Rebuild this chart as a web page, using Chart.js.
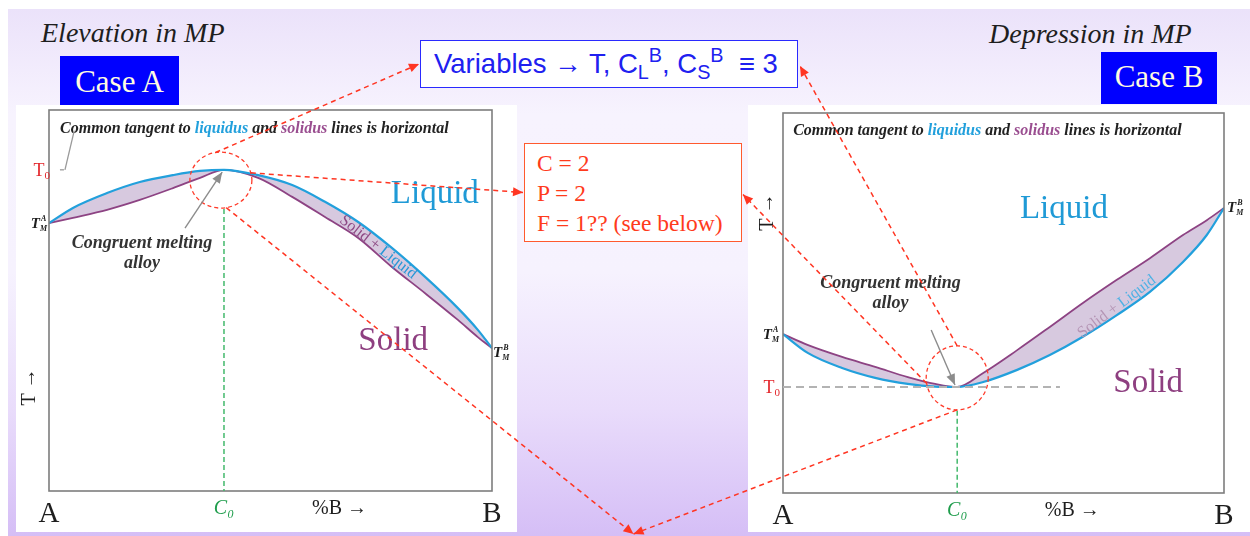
<!DOCTYPE html>
<html>
<head>
<meta charset="utf-8">
<script src="https://cdn.jsdelivr.net/npm/chart.js@4.4.1/dist/chart.umd.min.js"></script>
<style>
html,body{margin:0;padding:0;background:#fff;}
#page{position:relative;width:1250px;height:536px;overflow:hidden;font-family:'Liberation Serif','Times New Roman',serif;}
#bg{position:absolute;left:8px;top:9px;right:0;bottom:0;
  background:linear-gradient(to bottom,#ebe2fa 0%,#f7f3fe 20%,#f6f2fe 50%,#e9dcfb 76%,#d5bef6 100%);}
.panel{position:absolute;background:#fff;}
#panelA{left:16px;top:105px;width:501px;height:427px;}
#panelB{left:748px;top:105px;width:502px;height:427px;}
.panel canvas{position:absolute;left:0;top:0;}
.caption{position:absolute;font-style:italic;font-size:28px;line-height:28px;color:#1e1e1e;white-space:nowrap;}
.case{position:absolute;background:#0000ff;color:#fffbe2;font-size:31px;text-align:center;white-space:nowrap;}
#vars{position:absolute;left:420px;top:40px;width:363px;height:46px;padding-left:13px;border:1.5px solid #2a2aff;background:#fff;
  font-family:'Liberation Sans',Arial,sans-serif;color:#2020f0;font-size:27.5px;line-height:46px;white-space:nowrap;}
#vars sub,#vars sup{font-size:0.72em;line-height:0;position:relative;vertical-align:baseline;}
#vars sub{top:0.32em;}
#vars sup{top:-0.55em;}
#cpf{position:absolute;left:524px;top:143px;width:204px;height:93px;padding:4px 0 0 12px;border:1.5px solid #ff5a2e;background:#fff;
  color:#ff3b1c;font-size:23.5px;line-height:30px;white-space:nowrap;}
#links{position:absolute;left:0;top:0;pointer-events:none;}
</style>
</head>
<body>
<div id="page">
  <div id="bg"></div>
  <div class="caption" style="left:41px;top:19px;">Elevation in MP</div>
  <div class="caption" style="left:989px;top:20px;">Depression in MP</div>
  <div class="case" style="left:60px;top:56px;width:119px;height:51px;line-height:51px;">Case A</div>
  <div class="case" style="left:1101px;top:52px;width:116px;height:52px;line-height:50px;">Case B</div>
  <div id="vars">Variables → T, C<sub>L</sub><sup>B</sup>, C<sub>S</sub><sup>B</sup> &nbsp;≡ 3</div>
  <div class="panel" id="panelA"><canvas id="chartA" width="501" height="427"></canvas></div>
  <div class="panel" id="panelB"><canvas id="chartB" width="502" height="427"></canvas></div>
  <div id="cpf">C = 2<br>P = 2<br>F = 1?? (see below)</div>
  <canvas id="links" width="1250" height="536"></canvas>
</div>
<script>
const qs=s=>document.querySelector(s);

// ---- Case A : elevation in melting point (composition %B, temperature) ----
const compA = [0, 5.4, 13.1, 20.5, 28.0, 34.1, 39.5, 47.2, 54.9, 62.3, 69.8, 77.4, 84.9, 92.3, 96.8, 100];
const liqA  = [70.3, 74.3, 78.2, 81.1, 82.9, 84.0, 84.3, 82.9, 80.3, 75.9, 70.6, 63.8, 56.2, 48.0, 42.3, 37.5];
const solA  = [70.3, 71.7, 73.8, 76.4, 79.5, 82.2, 84.3, 82.2, 77.2, 71.9, 66.4, 58.8, 51.9, 44.9, 40.4, 37.5];

// ---- Case B : depression in melting point ----
const compB = [0, 5.7, 13.4, 20.9, 28.3, 34.5, 39.5, 45.4, 53.1, 60.5, 68.0, 75.7, 83.2, 90.7, 96.1, 100];
const liqB  = [41.8, 36.8, 32.9, 30.3, 28.7, 28.0, 27.9, 29.2, 32.4, 36.3, 41.1, 46.8, 52.9, 60.8, 67.9, 75.0];
const solB  = [41.8, 38.9, 35.8, 33.2, 30.5, 28.7, 27.9, 31.6, 37.6, 43.7, 50.0, 56.1, 61.8, 67.9, 71.8, 75.0];

// x-axis tick labels
const c0 = 39.5;
const tickVals   = [0, c0, 65.6, 100];
const tickLabels = ['A', 'C₀', '%B →', 'B'];

const BLUE='#22a0dc', PURPLE='#8d4383', SERIF='"Liberation Serif","Times New Roman",serif';
const tickColors=['#1e1e1e','#1f9d4c','#1e1e1e','#1e1e1e'];
const tickFonts=[
  {family:SERIF,size:29},
  {family:SERIF,size:20,style:'italic'},
  {family:SERIF,size:20},
  {family:SERIF,size:29}
];

function arrowHead(ctx,x1,y1,x2,y2,len,half){
  const a=Math.atan2(y2-y1,x2-x1);
  ctx.beginPath();
  ctx.moveTo(x2,y2);
  ctx.lineTo(x2-len*Math.cos(a)+half*Math.sin(a), y2-len*Math.sin(a)-half*Math.cos(a));
  ctx.lineTo(x2-len*Math.cos(a)-half*Math.sin(a), y2-len*Math.sin(a)+half*Math.cos(a));
  ctx.closePath(); ctx.fill();
}
function runs(ctx,parts,x,y){
  for(const [t,c] of parts){ ctx.fillStyle=c; ctx.fillText(t,x,y); x+=ctx.measureText(t).width; }
}
function runsWidth(ctx,parts){ return parts.reduce((s,[t])=>s+ctx.measureText(t).width,0); }
function tmLabel(ctx,x,y,sup,align){
  ctx.font='bold italic 15px '+SERIF; const wT=ctx.measureText('T').width;
  ctx.font='bold italic 8px '+SERIF; const wS=Math.max(ctx.measureText('M').width,ctx.measureText(sup).width);
  const x0=align==='right'?x-wT-wS-1:x;
  ctx.fillStyle='#1e1e1e'; ctx.textAlign='left'; ctx.textBaseline='alphabetic';
  ctx.font='bold italic 15px '+SERIF; ctx.fillText('T',x0,y+5);
  ctx.font='bold italic 8px '+SERIF; ctx.fillText('M',x0+wT,y+8); ctx.fillText(sup,x0+wT+1,y-2);
}
function t0Label(ctx,xr,yb){
  ctx.textAlign='left'; ctx.textBaseline='alphabetic'; ctx.fillStyle='#e3262b';
  ctx.font='18px '+SERIF; const wT=ctx.measureText('T').width;
  ctx.font='11px '+SERIF; const w0=ctx.measureText('0').width;
  const x0=xr-wT-w0;
  ctx.font='18px '+SERIF; ctx.fillText('T',x0,yb);
  ctx.font='11px '+SERIF; ctx.fillText('0',x0+wT,yb+3);
}

const phaseNotes={
  id:'phaseNotes',
  afterDatasetsDraw(chart,args,o){
    const {ctx,chartArea:ca}=chart;
    const X=v=>chart.scales.x.getPixelForValue(v), Y=v=>chart.scales.y.getPixelForValue(v);
    ctx.save();
    // plot frame
    ctx.strokeStyle='#7d7d7d'; ctx.lineWidth=1.6;
    ctx.strokeRect(ca.left,ca.top,ca.right-ca.left,ca.bottom-ca.top);

    // dashed guide at T0 (case B)
    if(o.guide){
      ctx.setLineDash([8,5]); ctx.strokeStyle='#b3b3b3'; ctx.lineWidth=2;
      ctx.beginPath(); ctx.moveTo(ca.left,Y(o.guide.y)); ctx.lineTo(X(o.guide.x2),Y(o.guide.y)); ctx.stroke();
    }
    // composition line C0
    const cy=Y(o.circle.y);
    ctx.setLineDash([5,3]); ctx.strokeStyle='#43b96c'; ctx.lineWidth=1.5;
    ctx.beginPath(); ctx.moveTo(X(c0),cy+o.circle.ry+1); ctx.lineTo(X(c0),ca.bottom); ctx.stroke();
    // red circle round the congruent point
    ctx.setLineDash([4,3]); ctx.strokeStyle='#ff3b2a'; ctx.lineWidth=1.3;
    ctx.beginPath(); ctx.ellipse(X(o.circle.x),cy,o.circle.rx,o.circle.ry,0,0,Math.PI*2); ctx.stroke();
    ctx.setLineDash([]);

    // title line in the plot
    ctx.textAlign='left'; ctx.textBaseline='alphabetic';
    ctx.font='bold italic 16px '+SERIF;
    runs(ctx,[['Common tangent to ','#222'],['liquidus',BLUE],[' and ','#222'],['solidus','#9a4e90'],[' lines is horizontal','#222']],X(o.tangent[0]),Y(o.tangent[1]));
    if(o.leader){
      ctx.strokeStyle='#9a9a9a'; ctx.lineWidth=1.3;
      ctx.beginPath(); ctx.moveTo(X(o.leader[0]),Y(o.leader[1])); ctx.lineTo(X(o.leader[2]),Y(o.leader[3])); ctx.stroke();
      ctx.beginPath(); ctx.moveTo(X(o.leader[0])-5,Y(o.leader[1])); ctx.lineTo(X(o.leader[0])-1,Y(o.leader[1])); ctx.stroke();
    }

    // phase field names
    ctx.textAlign='center';
    ctx.font='33px '+SERIF; ctx.fillStyle='#1f9ad6'; ctx.fillText('Liquid',X(o.liquid[0]),Y(o.liquid[1]));
    ctx.fillStyle='#8e3f80'; ctx.fillText('Solid',X(o.solid[0]),Y(o.solid[1]));

    // Solid + Liquid along the lens
    ctx.save();
    ctx.translate(X(o.mix.x),Y(o.mix.y)); ctx.rotate(o.mix.angle*Math.PI/180);
    ctx.font='16px '+SERIF; ctx.textAlign='left'; ctx.textBaseline='middle';
    const mixParts=[['Solid + ',o.mix.light?'#b494b4':'#8e4a85'],['Liquid',o.mix.light?'#4fb1e4':'#2797d6']];
    runs(ctx,mixParts,-runsWidth(ctx,mixParts)/2,0);
    ctx.restore();

    // congruent melting note + arrow
    ctx.textAlign='center'; ctx.textBaseline='alphabetic';
    ctx.font='bold italic 18px '+SERIF; ctx.fillStyle='#333';
    ctx.fillText('Congruent melting',X(o.melt.x),Y(o.melt.y1));
    ctx.fillText('alloy',X(o.melt.x),Y(o.melt.y2));
    const a=o.meltArrow;
    ctx.strokeStyle='#8c8c8c'; ctx.fillStyle='#8c8c8c'; ctx.lineWidth=1.4;
    ctx.beginPath(); ctx.moveTo(X(a[0]),Y(a[1])); ctx.lineTo(X(a[2]),Y(a[3])); ctx.stroke();
    arrowHead(ctx,X(a[0]),Y(a[1]),X(a[2]),Y(a[3]),11,4.5);

    // temperature labels
    t0Label(ctx,ca.left+o.t0dx,Y(o.t0)+6);
    tmLabel(ctx,ca.left-o.tmGap,Y(o.tmA),'A','right');
    tmLabel(ctx,ca.right+o.tmGap,Y(o.tmB)+o.tmBdy,'B','left');

    // vertical T arrow
    ctx.save();
    ctx.translate(X(o.tArrow[0]),Y(o.tArrow[1])); ctx.rotate(-Math.PI/2);
    ctx.font='20px '+SERIF; ctx.fillStyle='#1e1e1e'; ctx.textAlign='center'; ctx.textBaseline='middle';
    ctx.fillText('T →',0,0);
    ctx.restore();
    ctx.restore();
  }
};

function makeChart(id,comp,liq,sol,pad,notes){
  return new Chart(qs(id),{
    type:'line',
    data:{datasets:[
      {label:'Liquidus',data:comp.map((x,i)=>({x,y:liq[i]})),borderColor:BLUE,borderWidth:2.2,pointRadius:0,fill:false,cubicInterpolationMode:'monotone'},
      {label:'Solidus',data:comp.map((x,i)=>({x,y:sol[i]})),borderColor:PURPLE,borderWidth:1.8,pointRadius:0,fill:'-1',backgroundColor:'#d7c9df',cubicInterpolationMode:'monotone'}
    ]},
    options:{
      responsive:false,animation:false,events:[],
      layout:{padding:pad},
      scales:{
        x:{type:'linear',min:0,max:100,grid:{display:false,drawTicks:false},border:{display:false},
           afterBuildTicks:s=>{ s.ticks=tickVals.map(v=>({value:v})); },
           afterFit:s=>{ s.height=36; },
           ticks:{autoSkip:false,maxRotation:0,padding:6,
                  callback:(v,i)=>tickLabels[i],
                  color:c=>tickColors[c.index],font:c=>tickFonts[c.index]}},
        y:{type:'linear',min:0,max:100,display:false}
      },
      plugins:{legend:{display:false},tooltip:{enabled:false},phaseNotes:notes}
    },
    plugins:[phaseNotes]
  });
}

const chartA=makeChart('#chartA',compA,liqA,solA,{left:33,top:5,right:25,bottom:5},{
  circle:{x:38.8,y:81.6,rx:31,ry:28},
  tangent:[2.5,94.0], leader:[3.6,84.3,5.7,94.6],
  liquid:[87.1,75.6], solid:[77.7,37.0],
  mix:{x:74.3,y:64.0,angle:38,light:false},
  melt:{x:21.0,y1:63.8,y2:58.5}, meltArrow:[30.7,69.0,39.1,83.7],
  t0:84.3, t0dx:1, tmA:70.3, tmB:37.5, tmBdy:4, tmGap:1,
  tArrow:[-4.3,27.3]
});
const chartB=makeChart('#chartB',compB,liqB,solB,{left:35,top:8,right:26,bottom:3},{
  circle:{x:39.5,y:30.3,rx:31,ry:32},
  tangent:[2.3,94.2], guide:{y:27.9,x2:62.8},
  liquid:[63.7,72.4], solid:[82.8,26.6],
  mix:{x:75.7,y:49.0,angle:-37,light:true},
  melt:{x:24.4,y1:53.9,y2:48.7}, meltArrow:[33.6,42.9,39.0,28.4],
  t0:27.9, t0dx:-3, tmA:41.8, tmB:75, tmBdy:-1, tmGap:3,
  tArrow:[-3.4,73.9]
});

// dashed red connectors between the circles and the boxes
function drawLinks(){
  const ctx=qs('#links').getContext('2d');
  const pr=qs('#page').getBoundingClientRect();
  const rel=el=>{ const r=el.getBoundingClientRect(); return {l:r.left-pr.left,t:r.top-pr.top,r:r.right-pr.left,b:r.bottom-pr.top}; };
  const circ=ch=>{ const o=ch.options.plugins.phaseNotes.circle, c=rel(ch.canvas);
    return {x:c.l+ch.scales.x.getPixelForValue(o.x),y:c.t+ch.scales.y.getPixelForValue(o.y),rx:o.rx,ry:o.ry}; };
  const at=(c,deg)=>[c.x+c.rx*Math.cos(deg*Math.PI/180),c.y+c.ry*Math.sin(deg*Math.PI/180)];
  const vars=rel(qs('#vars')), cpf=rel(qs('#cpf')), pa=rel(qs('#panelA')), pb=rel(qs('#panelB'));
  const cA=circ(chartA), cB=circ(chartB);
  const bottom=[(pa.r+pb.l)/2+1,534];
  const links=[
    [at(cA,-100),[vars.l-1,(vars.t+vars.b)/2]],
    [at(cA,-15),[cpf.l-1,(cpf.t+cpf.b)/2]],
    [at(cA,80),bottom],
    [at(cB,-90),[vars.r+2,(vars.t+vars.b)/2+2]],
    [at(cB,170),[cpf.r+1,(cpf.t+cpf.b)/2+2]],
    [at(cB,90),bottom]
  ];
  ctx.strokeStyle='#ff3522'; ctx.fillStyle='#ff3522'; ctx.lineWidth=1.5;
  for(const [s,e] of links){
    ctx.setLineDash([5,4]);
    ctx.beginPath(); ctx.moveTo(s[0],s[1]); ctx.lineTo(e[0],e[1]); ctx.stroke();
    ctx.setLineDash([]);
    arrowHead(ctx,s[0],s[1],e[0],e[1],10,4.5);
  }
}
drawLinks();
</script>
</body>
</html>
